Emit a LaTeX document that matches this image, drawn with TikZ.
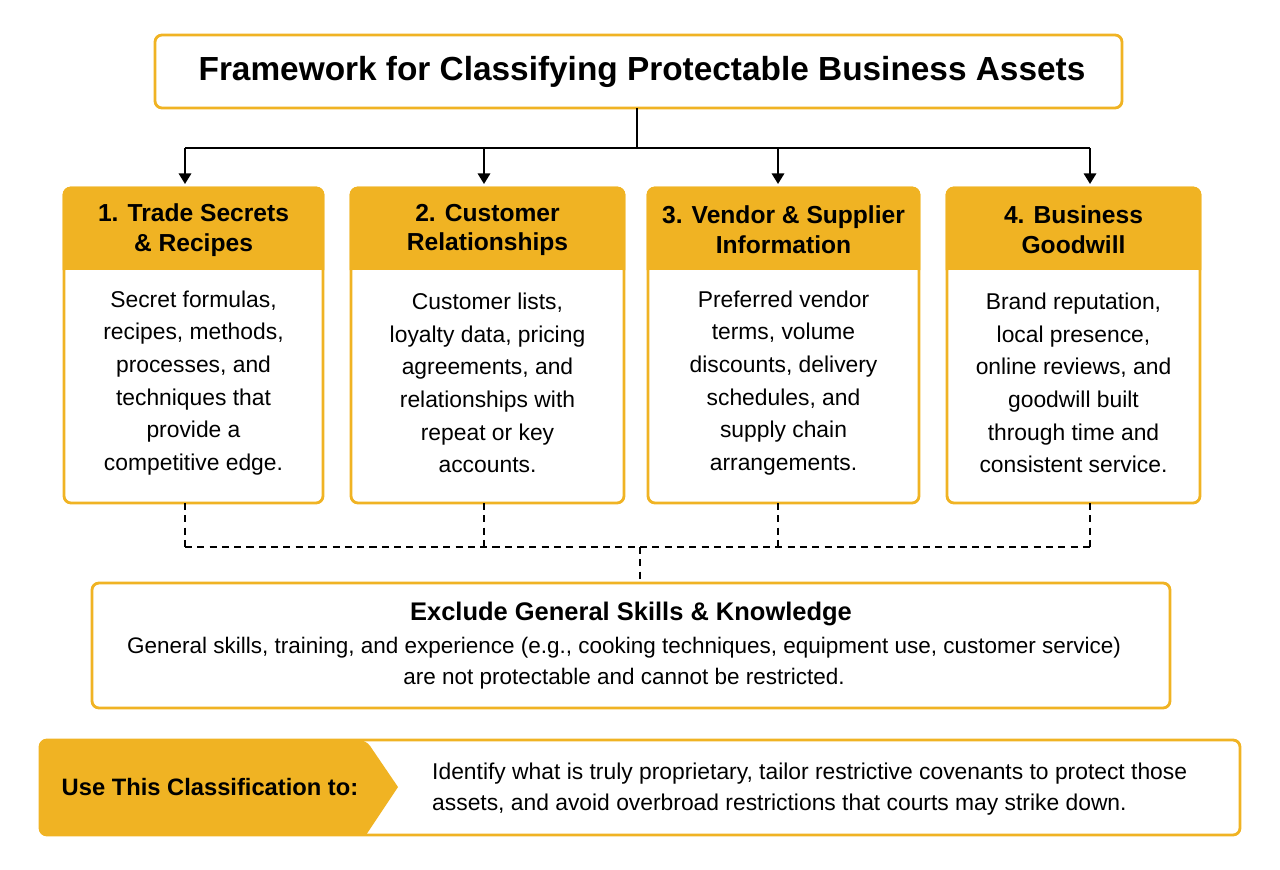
\documentclass[tikz,border=0pt]{standalone}
\usepackage{fontspec}
\setmainfont{Liberation Sans}
\usetikzlibrary{positioning, arrows.meta}
\definecolor{gold}{HTML}{F0B323}
\tikzset{
  framebox/.style={draw=gold, line width=1.6pt, rounded corners=4pt, fill=white},
  bodytext/.style={align=center, font=\fontsize{13}{18.6}\selectfont},
  feed/.style={-{Triangle[length=6pt,width=7pt]}, line width=1.2pt},
  dashlink/.style={dashed, line width=1pt, dash pattern=on 4pt off 3pt}
}
\begin{document}
\begin{tikzpicture}[x=0.02cm, y=-0.02cm]
        \useasboundingbox (0,0) rectangle (1280,869);
        % Title
        \draw[framebox] (155,35) rectangle (1122,108);
        \node (title) at (642,72) {\fontsize{19}{22}\selectfont\bfseries Framework for Classifying Protectable Business Assets};
        % Trunk and feeds
        \coordinate (trunk) at (637,108);
        \coordinate (split) at (637,148);
        \draw[line width=1.2pt] (trunk) -- (split);
        \draw[line width=1.2pt] (185,148) -- (1090,148);
        \foreach \x in {185,484,778,1090}
          \draw[feed] (\x,148) -- (\x,184);
        % Category boxes
        \foreach \n/\l/\r/\head/\body in {
          1/64/323/{1. Trade Secrets\\\& Recipes}/{Secret formulas,\\recipes, methods,\\processes, and\\techniques that\\provide a\\competitive edge.},
          2/351/624/{2. Customer\\Relationships}/{Customer lists,\\loyalty data, pricing\\agreements, and\\relationships with\\repeat or key\\accounts.},
          3/648/919/{3. Vendor \& Supplier\\Information}/{Preferred vendor\\terms, volume\\discounts, delivery\\schedules, and\\supply chain\\arrangements.},
          4/947/1200/{4. Business\\Goodwill}/{Brand reputation,\\local presence,\\online reviews, and\\goodwill built\\through time and\\consistent service.}}{
          \draw[framebox] (\l,188) rectangle (\r,503);
          \fill[gold, rounded corners=4pt] (\l,188) rectangle (\r,260);
          \fill[gold] (\l,240) rectangle (\r,270);
          \draw[gold, line width=1.6pt, rounded corners=4pt] (\l,270) |- (\r,188) -- (\r,270);
          \node[align=center, font=\fontsize{14}{17}\selectfont\bfseries] (head\n) at ({(\l+\r)/2},230) {\head};
          \node[bodytext] (body\n) at ({(\l+\r)/2},383) {\body};
        }
        % Dashed links to exclusion
        \foreach \x in {185,484,778,1090}
          \draw[dashlink] (\x,503) -- (\x,547);
        \draw[dashlink] (185,547) -- (1090,547);
        \draw[dashlink] (640,547) -- (640,583);
        % Exclusion box
        \draw[framebox] (92,583) rectangle (1170,708);
        \node (exhead) at (631,614) {\fontsize{14.5}{16}\selectfont\bfseries Exclude General Skills \& Knowledge};
        \node[align=center, font=\fontsize{12.8}{17.5}\selectfont] (exbody) at (624,663) {General skills, training, and experience (e.g., cooking techniques, equipment use, customer service)\\are not protectable and cannot be restricted.};
        % Usage banner
        \draw[framebox] (40,740) rectangle (1240,835);
        \fill[gold, rounded corners=4pt] (40,740) -- (366,740) [sharp corners] -- (398,787) -- (366,835) [rounded corners=4pt] -- (40,835) -- cycle;
        \node (uselabel) at (210,787) {\fontsize{13.5}{16}\selectfont\bfseries Use This Classification to:};
        \node[align=left, font=\fontsize{13}{18}\selectfont, anchor=west] (usetext) at (426,789) {Identify what is truly proprietary, tailor restrictive covenants to protect those\\assets, and avoid overbroad restrictions that courts may strike down.};
\end{tikzpicture}
\end{document}
